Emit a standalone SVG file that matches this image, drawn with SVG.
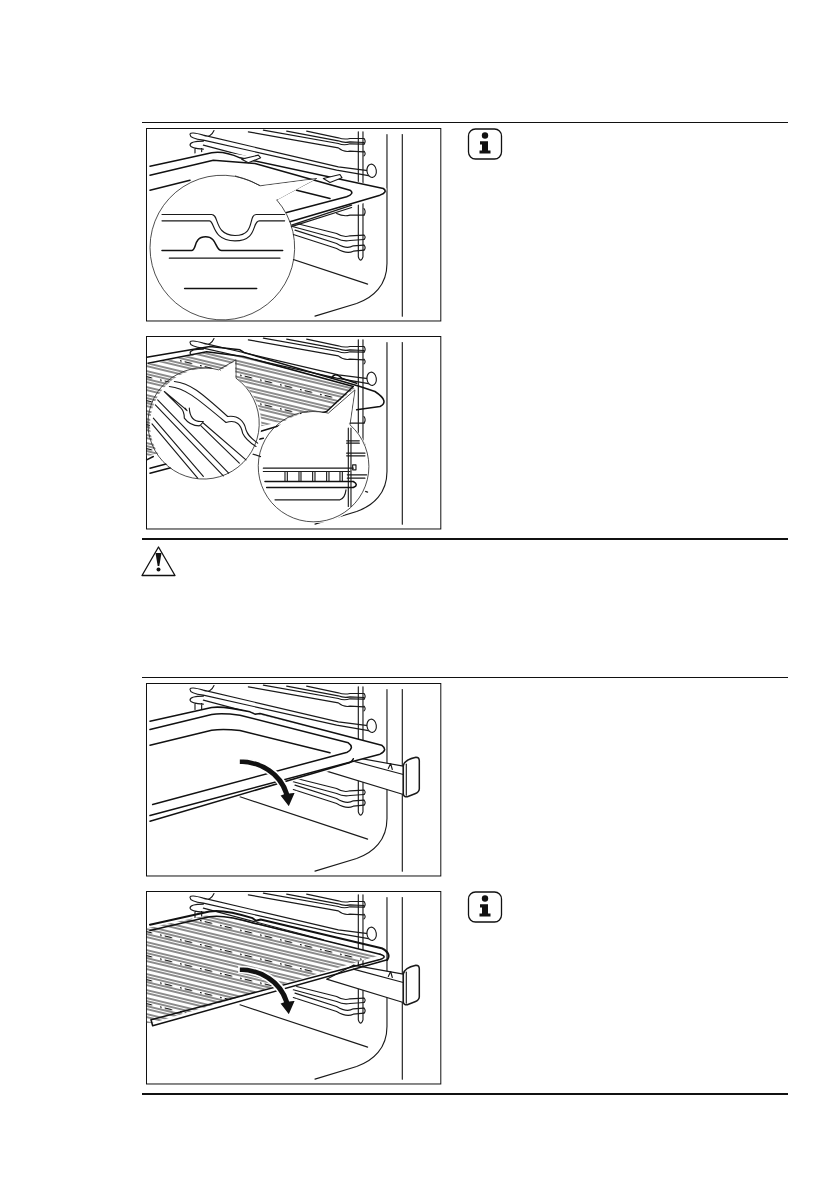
<svg xmlns="http://www.w3.org/2000/svg" width="840" height="1190" viewBox="0 0 840 1190">
<style>
.l{fill:none;stroke:#1a1a1a;stroke-width:3.4;stroke-linecap:round;stroke-linejoin:round}
.c{fill:none;stroke:#222;stroke-width:2.4}
.m{fill:none;stroke:#111;stroke-width:4.6;stroke-linecap:round;stroke-linejoin:round}
.t{fill:none;stroke:#111;stroke-width:6;stroke-linecap:round;stroke-linejoin:round}
.w{fill:#fff;stroke:#1a1a1a;stroke-width:3.4;stroke-linejoin:round}
.n{fill:#fff;stroke:none}
.rule{stroke:#111}
</style>
<defs>
<pattern id="grid" width="60" height="72" patternUnits="userSpaceOnUse" patternTransform="skewY(13.500)">
<rect width="60" height="72" fill="#fff"/>
<path d="M0 3H60M0 12H60M0 27H60M0 36H60M0 51H60M0 60H60" stroke="#1a1a1a" stroke-width="3"/>
<path d="M0 44H60" stroke="#111" stroke-width="4" stroke-dasharray="5 9 22 24"/>
</pattern>
<g id="oven">
<rect x="19.500" y="0" width="883" height="577.500" fill="#fff" stroke="#111" stroke-width="3"/>
<path class="l" d="M787 18V563"/>
<path class="l" d="M741 18V405C741 470 700 508 650 525L525 563"/>
<path class="l" d="M300 340L683 467"/>
<path class="l" d="M325 10L595 58Q612 72 630 68L672 70M370 5L595 45Q612 52 630 46L672 47M440 8L595 37Q612 44 630 40L672 42M500 8L595 28Q612 34 630 30L672 30"/>
<path class="l" d="M672 30q7 8 0 17M672 68q7 8 0 14"/>
<path class="l" d="M655 10V385Q662 405 669 385V10"/>
<path class="l" d="M190 20L595 115L690 127M190 35L590 125L690 142M190 50L550 145M222 6Q212 30 190 20Q150 8 150 18Q150 30 190 35M190 38Q150 38 150 50Q152 60 190 62M165 60V78M185 60V78"/>
<ellipse cx="695" cy="127" rx="14" ry="20" class="w" transform="rotate(-8 695 127)"/>
<path class="l" d="M470 285L590 315Q610 328 630 322L672 320M460 295L590 330Q610 340 630 336L672 333M465 305L590 345Q620 364 640 352L672 350M460 318L590 360Q620 378 640 368L672 365M590 255Q610 265 630 260H672"/>
<path class="l" d="M672 320q7 6 0 13M672 350q7 8 0 15M672 240q7 10 0 20"/>
</g>
<g id="info">
<rect x="1.500" y="1" width="33" height="30" rx="7" fill="#fff" stroke="#111" stroke-width="1.300"/>
<circle cx="18" cy="7.500" r="3.200" fill="#111"/>
<path fill="#111" d="M13 13.200H21V22.500H23.500V25.500H12.500V22.500H15V16.500H13Z"/>
</g>
<g id="runner">
<path class="w" d="M560 263L790 333V248L640 221Z"/>
<path class="l" d="M640 233L790 273M745 255L752 240L757 258"/>
<path class="w" style="stroke-width:4.500" d="M790 247C792 232 810 225 828 221Q838 221 838 232V316Q838 326 825 331L802 340Q790 341 790 330Z"/>
<path class="l" d="M799 242V335"/>
</g>
<g id="arrow">
<path fill="#111" stroke="#fff" stroke-width="5" stroke-linejoin="miter" d="M297 225C370 225 430 265 449 327L468 325L447 373L418 335L429 331C410 275 355 243 297 243Z"/>
</g>
<clipPath id="grid2"><path d="M20 85L200 48L300 58L650 150L560 225L360 270L20 360Z"/></clipPath>
<clipPath id="grid4"><path d="M20 110L208 70L340 92L725 190L35 395L20 395Z"/></clipPath>
</defs>

<g id="rules">
<path class="rule" stroke-width="1" d="M142 122.500H788M142 677.500H788"/>
<path class="rule" stroke-width="2" d="M142 539H788M142 1094H788"/>
</g>

<g id="panel1" transform="translate(140 128.500) scale(.3333)">
<use href="#oven"/>
<path class="n" d="M30 100L215 65L340 85L740 180L735 205L450 290L30 200Z"/>
<path class="m" d="M30 113L120 94L215 73Q250 66 300 88L730 180Q745 190 720 200L450 280"/>
<path class="m" d="M30 140L220 95L345 105L630 185Q645 195 620 205L440 252"/>
<path class="m" d="M30 185L150 155M470 185L570 210"/>
<path class="l" d="M635 230L455 290M635 237L450 296"/>
<path class="w" d="M305 92L355 80L362 88L325 103ZM550 150L600 138L606 148L570 162Z"/>
<path class="n" d="M28 356.500A217 217 0 1 0 462 356.500A217 217 0 1 0 28 356.500Z"/>
<path class="c" d="M410 214A217 217 0 1 1 360 172L530 150Z"/>
<path class="n" d="M365 173L526 152L415 212L400 212Z"/>
<path class="c" d="M285 142Q330 155 360 171"/>
<path class="l" d="M66 283H215C238 283 222 345 285 346C350 345 322 283 350 283H434M66 302H208C225 302 215 362 285 362C355 362 335 302 358 302H434" transform="translate(0 -25)"/>
<path class="m" d="M66 366H155C170 366 160 325 197 325C232 325 225 366 245 366H428"/>
<path class="l" d="M88 389H420"/>
<path class="m" d="M134 480H350"/>
</g>

<g id="panel2" transform="translate(140 336.500) scale(.3333)">
<use href="#oven"/>
<path fill="url(#grid)" clip-path="url(#grid2)" d="M0 0H800V500H0Z"/>
<path class="m" d="M20 62L210 30L300 40L312 48L660 150L705 165Q750 195 720 210L650 220"/>
<path class="m" d="M24 80L200 46L310 60L640 150L560 225L360 285"/>
<path class="m" d="M575 125Q585 105 605 125L650 140"/>
<path class="m" d="M20 370L40 360M30 395L95 378M30 410L95 393M350 310L370 305"/>
<path class="n" d="M30 264A167 167 0 1 0 364 264A167 167 0 1 0 30 264Z"/>
<path class="c" d="M288 125A167 167 0 1 1 236 100L288 70Z"/>
<path class="n" d="M240 103L285 74L286 124Z"/>
<path class="l" d="M103 135C150 140 180 165 263 240C295 235 313 255 318 280C325 300 335 305 353 320M88 150C135 155 165 180 258 258C290 248 303 265 308 290C315 305 325 315 348 330"/>
<path class="l" d="M73 165L133 215Q148 230 135 215M73 165L123 215Q133 225 133 245Q150 268 178 268Q183 265 188 258L318 370M148 215Q150 255 183 255L190 255M183 268L298 380"/>
<path class="l" d="M53 190L266 410M46 205L250 418M40 245L190 420M36 262L173 425"/>
<path class="n" d="M360 393A166 166 0 1 0 692 393A166 166 0 1 0 360 393Z"/>
<path class="c" d="M630 265A166 166 0 1 1 565 230L645 160Z"/>
<path class="n" d="M568 232L642 166L628 263Z"/>
<path class="l" d="M625 275V510M633 275V510"/>
<path class="l" d="M620 313H658M620 320H658M620 350H675M620 358H675M622 415H680M622 425H675"/>
<path class="l" d="M370 395H640M370 405H630M435 405V435M442 405V435M477 405V435M483 405V435M518 405V435M525 405V435M560 405V435M567 405V435M600 405V435M607 405V435"/>
<path class="m" d="M375 435H640Q658 445 640 453L380 453"/>
<path class="l" d="M405 490H600Q615 485 618 460"/>
<path class="l" d="M638 385h10v15h-10z"/>
</g>

<g id="panel3" transform="translate(140 683.500) scale(.3333)">
<use href="#oven"/>
<use href="#runner"/>
<path class="n" d="M30 113L215 72Q250 68 340 88L725 185Q745 200 720 212L640 235L630 245L30 415Z"/>
<path class="m" d="M30 113L215 72Q250 67 330 85L345 92L360 90L725 185Q745 200 720 212L30 396"/>
<path class="m" d="M30 138L215 93Q245 88 300 95L625 178Q645 192 622 206L38 363"/>
<path class="m" d="M30 185L215 140Q250 135 300 141L570 208"/>
<path class="m" d="M640 226Q635 238 620 240L30 413"/>
<use href="#arrow"/>
</g>

<g id="panel4" transform="translate(140 891.500) scale(.3333)">
<use href="#oven"/>
<use href="#runner"/>
<path fill="url(#grid)" clip-path="url(#grid4)" d="M0 0H800V500H0Z"/>
<path class="t" d="M30 100L208 60Q250 52 338 80L348 88L362 84L725 170Q755 185 742 205"/>
<path class="m" d="M30 117L208 76Q250 68 345 96L360 99L720 188"/>
<path class="m" d="M720 188Q745 195 720 204L33 385L38 403L742 205"/>
<use href="#arrow"/>
</g>

<g id="warn">
<path fill="#fff" stroke="#111" stroke-width="1.300" stroke-linejoin="round" d="M158.500 547L175 575.500H142Z"/>
<path fill="#111" d="M155.500 553H161.500L159.300 566H157.700Z"/>
<circle cx="158.500" cy="569.500" r="2" fill="#111"/>
</g>
<use id="info1" href="#info" x="467" y="128"/>
<use id="info2" href="#info" x="467" y="891"/>
</svg>
